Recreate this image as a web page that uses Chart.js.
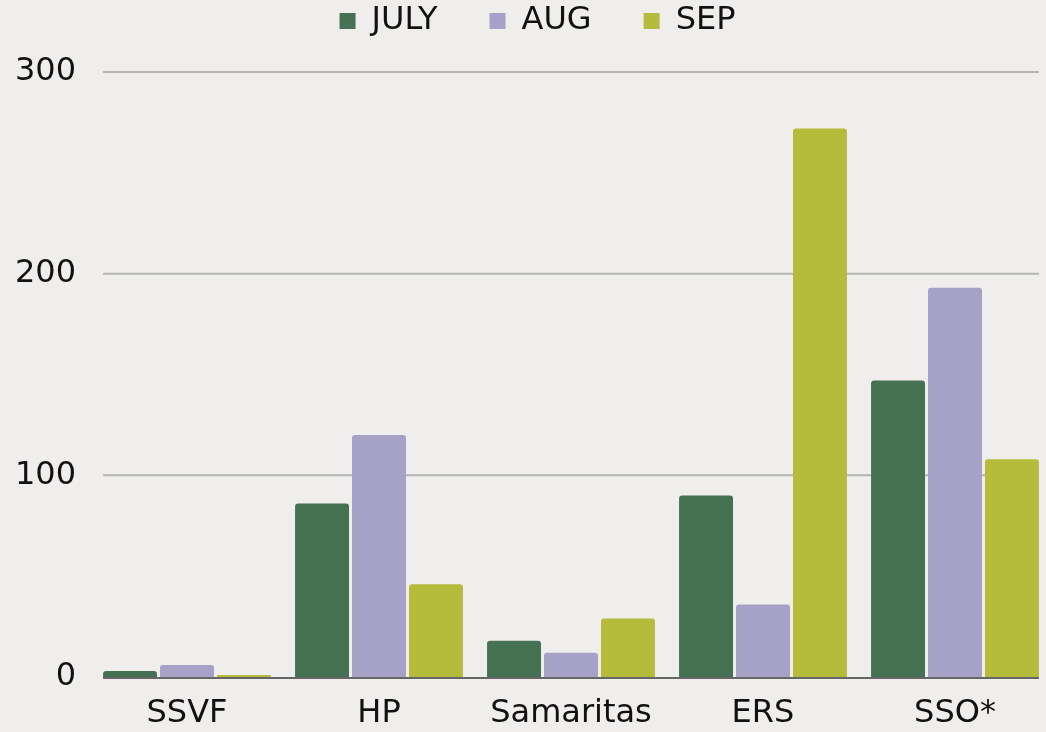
<!DOCTYPE html>
<html>
<head>
<meta charset="utf-8">
<script src="https://cdn.jsdelivr.net/npm/chart.js@4.4.1/dist/chart.umd.min.js"></script>
<style>
  html, body { margin: 0; padding: 0; background: #efeeec; overflow: hidden; }
  #wrap { width: 1090px; height: 732px; }
</style>
</head>
<body>
<div id="wrap"><canvas id="chart"></canvas></div>
<script>
// data
const categories = ["SSVF", "HP", "Samaritas", "ERS", "SSO*"];
const july = [3, 86, 18, 90, 147];
const aug = [6, 120, 12, 36, 193];
const sep = [1, 46, 29, 272, 108];
const yTicks = [0, 100, 200, 300];

const FONT = "'DejaVu Sans', sans-serif";

// horizontal lines only span the bars, not the full chart area
const barLines = {
  id: 'barLines',
  beforeDatasetsDraw(chart) {
    const first = chart.getDatasetMeta(0).data[0];
    const lastMeta = chart.getDatasetMeta(chart.data.datasets.length - 1);
    const last = lastMeta.data[lastMeta.data.length - 1];
    const left = first.x - first.width / 2;
    const right = last.x + last.width / 2;
    const y = chart.scales.y;
    const ctx = chart.ctx;
    ctx.save();
    ctx.lineWidth = 2;
    yTicks.forEach(v => {
      const py = y.getPixelForValue(v);
      ctx.strokeStyle = v === 0 ? '#666666' : '#b3b3b3';
      ctx.beginPath();
      ctx.moveTo(left, v === 0 ? py + 1 : py);
      ctx.lineTo(right, v === 0 ? py + 1 : py);
      ctx.stroke();
    });
    ctx.restore();
  }
};

// legend: keep wide spacing between items but sit close to the top
const legendPlace = {
  id: 'legendPlace',
  beforeLayout(chart) {
    const lg = chart.legend;
    if (lg && !lg._fitWrapped) {
      const fit = lg.fit;
      lg.fit = function () { fit.call(this); this.height = 72; };
      lg._fitWrapped = true;
    }
  },
  afterLayout(chart) {
    // legend clips to its box, so only move edges outward/inward
    chart.legend.top -= 47;
    chart.legend.left += 24;
  }
};

new Chart(document.getElementById('chart'), {
  type: 'bar',
  data: {
    labels: categories,
    datasets: [
      { label: 'JULY', data: july, backgroundColor: '#467153' },
      { label: 'AUG', data: aug, backgroundColor: '#a6a2c7' },
      { label: 'SEP', data: sep, backgroundColor: '#b5bb3a' }
    ]
  },
  options: {
    responsive: true,
    maintainAspectRatio: false,
    animation: false,
    layout: { padding: { left: 0, right: 39, top: 0, bottom: 0 } },
    datasets: {
      bar: {
        categoryPercentage: 0.89,
        barPercentage: 0.947,
        borderRadius: 3,
        borderWidth: 0
      }
    },
    plugins: {
      legend: {
        position: 'top',
        labels: {
          font: { family: FONT, size: 32 },
          color: '#111',
          boxWidth: 16,
          boxHeight: 16,
          padding: 52
        }
      },
      tooltip: { enabled: false }
    },
    scales: {
      x: {
        grid: { display: false, drawTicks: false },
        border: { display: false },
        afterFit: s => { s.height = 55; },
        ticks: { font: { family: FONT, size: 32 }, color: '#111', padding: 17, maxRotation: 0 }
      },
      y: {
        min: 0,
        max: 300,
        grid: { display: false, drawTicks: false },
        border: { display: false },
        afterFit: s => { s.width = 91; },
        afterBuildTicks: s => { s.ticks = yTicks.map(v => ({ value: v })); },
        ticks: { font: { family: FONT, size: 32 }, color: '#111', padding: 15 }
      }
    }
  },
  plugins: [barLines, legendPlace]
});
</script>
</body>
</html>
